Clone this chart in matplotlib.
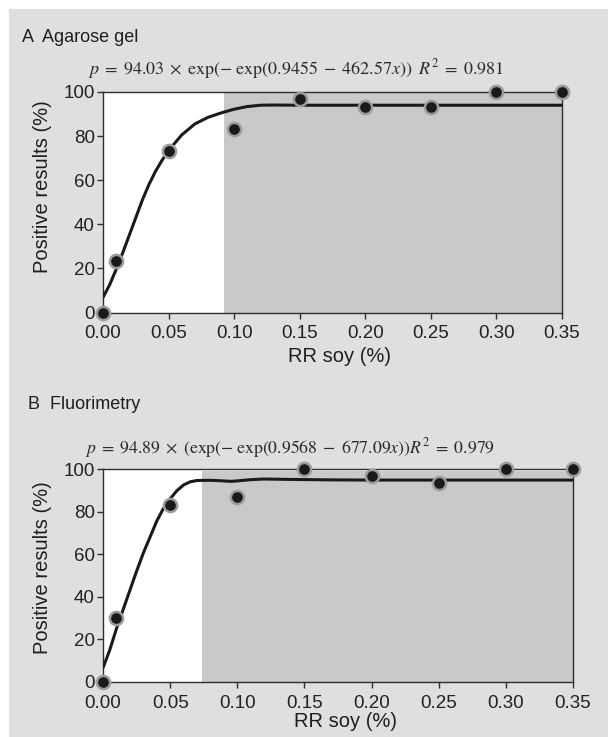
import matplotlib
matplotlib.use('Agg')
import matplotlib.pyplot as plt
from matplotlib.patches import Rectangle

plt.rcParams['font.family'] = ['Liberation Sans', 'DejaVu Sans']
plt.rcParams['mathtext.fontset'] = 'stix'

# ---- data ----
rr_soy = [0.0, 0.01, 0.05, 0.10, 0.15, 0.20, 0.25, 0.30, 0.35]
agarose_pos = [0, 23.3, 73.3, 83.3, 96.7, 93.3, 93.3, 100, 100]
fluor_pos = [0, 30.0, 83.3, 86.7, 100, 96.7, 93.3, 100, 100]

agarose_fit_x = [0, 0.005, 0.01, 0.015, 0.02, 0.025, 0.03, 0.035, 0.04, 0.045, 0.05,
                 0.06, 0.07, 0.08, 0.09, 0.10, 0.11, 0.12, 0.13, 0.15, 0.20, 0.25, 0.30, 0.35]
agarose_fit_y = [6.8, 12.5, 19.5, 27, 35, 43, 51, 58, 64, 69, 73.5,
                 80.5, 85.5, 88.5, 90.5, 92.2, 93.4, 94.0, 94.1, 94.0, 94.0, 94.0, 94.0, 94.0]

fluor_fit_x = [0, 0.005, 0.01, 0.015, 0.02, 0.025, 0.03, 0.035, 0.04, 0.045, 0.05, 0.055,
               0.06, 0.065, 0.07, 0.08, 0.09, 0.095, 0.10, 0.11, 0.12, 0.14, 0.17, 0.20,
               0.25, 0.30, 0.35]
fluor_fit_y = [6.6, 15, 25, 34, 43, 52, 60.5, 68, 75.5, 81.5, 86, 89.8,
               92.5, 94, 94.6, 94.7, 94.4, 94.2, 94.4, 95.0, 95.3, 95.1, 94.9, 94.8,
               94.8, 94.8, 94.8]

shade_start_A = 0.092
shade_start_B = 0.074
shade_top_B = 99

xticks = [0.00, 0.05, 0.10, 0.15, 0.20, 0.25, 0.30, 0.35]
xtick_labels = ['0.00', '0.05', '0.10', '0.15', '0.20', '0.25', '0.30', '0.35']
yticks = [0, 20, 40, 60, 80, 100]

eq_A = (r'$p\;=\;94.03\;\times\;\mathrm{exp}(-\;\mathrm{exp}(0.9455\;-\;462.57x))'
        r'\;\;R^2\;=\;0.981$')
eq_B = (r'$p\;=\;94.89\;\times\;(\mathrm{exp}(-\;\mathrm{exp}(0.9568\;-\;677.09x))'
        r'R^2\;=\;0.979$')

W, H = 608, 737
BG = '#dedfe1'
SHADE = '#c8c9cb'
SPINE = '#2e2e2e'

fig = plt.figure(figsize=(W / 100, H / 100), dpi=100)
fig.patch.set_facecolor('white')
fig.patches.append(Rectangle((9 / W, 0), 1, (H - 9) / H, transform=fig.transFigure,
                             facecolor=BG, edgecolor='none', zorder=-10))


def px_axes(left, top, right, bottom):
    return [left / W, (H - bottom) / H, (right - left) / W, (bottom - top) / H]


def style(ax, shade_x, shade_top, xs, ys, fx, fy):
    ax.set_facecolor('white')
    ax.fill_between([shade_x, 0.35], 0, shade_top, color=SHADE, lw=0, zorder=1)
    ax.plot(fx, fy, color='#1a1a1a', lw=2.2, zorder=3, solid_capstyle='butt')
    ax.plot(xs, ys, 'o', ms=9.5, mfc='#1a1a1a', mec='#9c9c9c', mew=1.8,
            zorder=4, clip_on=False)
    ax.set_xlim(0, 0.35)
    ax.set_ylim(0, 100)
    ax.set_xticks(xticks)
    ax.set_xticklabels(xtick_labels)
    ax.set_yticks(yticks)
    for s in ax.spines.values():
        s.set_color(SPINE)
        s.set_linewidth(1.0)
    ax.tick_params(direction='out', length=4, width=1.0, color=SPINE,
                   labelsize=13.5, labelcolor='#222222')
    ax.tick_params(axis='y', pad=2)
    ax.tick_params(axis='x', pad=5)


axA = fig.add_axes(px_axes(103, 92, 562, 312.5))
style(axA, shade_start_A, 100, rr_soy, agarose_pos, agarose_fit_x, agarose_fit_y)
axB = fig.add_axes(px_axes(103, 469, 573, 682))
style(axB, shade_start_B, shade_top_B, rr_soy, fluor_pos, fluor_fit_x, fluor_fit_y)

# titles
fig.text(22 / W, 1 - 42 / H, 'A  Agarose gel', fontsize=13, color='#1e1e1e', va='baseline')
fig.text(28 / W, 1 - 409 / H, 'B  Fluorimetry', fontsize=13, color='#1e1e1e', va='baseline')

# equations
fig.text(88 / W, 1 - 74 / H, eq_A, fontsize=13, color='#2a2a2a', va='baseline')
fig.text(85 / W, 1 - 453 / H, eq_B, fontsize=12.75, color='#2a2a2a', va='baseline')

# axis labels
fig.text(340 / W, 1 - 362 / H, 'RR soy (%)', fontsize=14.5, color='#1e1e1e',
         ha='center', va='baseline')
fig.text(345 / W, 1 - 727 / H, 'RR soy (%)', fontsize=14.5, color='#1e1e1e',
         ha='center', va='baseline')
fig.text(43 / W, 1 - 187 / H, 'Positive results (%)', fontsize=14.5, color='#1e1e1e',
         ha='center', va='center', rotation=90)
fig.text(43 / W, 1 - 568 / H, 'Positive results (%)', fontsize=14.5, color='#1e1e1e',
         ha='center', va='center', rotation=90)

fig.savefig('out.png', dpi=100, facecolor=fig.get_facecolor())
